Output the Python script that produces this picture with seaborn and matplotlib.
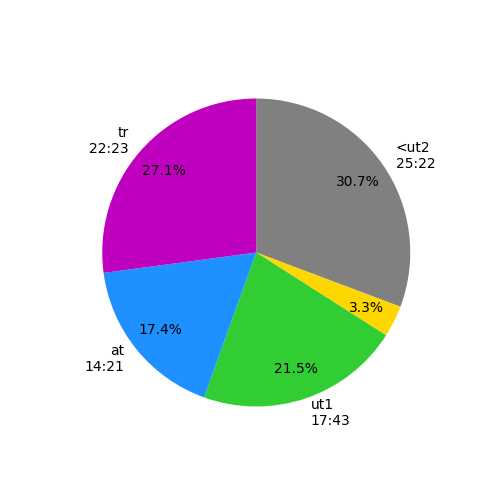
import matplotlib
matplotlib.use("Agg")
import matplotlib.pyplot as plt
import seaborn as sns

labels = ["<ut2\n25:22", "", "ut1\n17:43", "at\n14:21", "tr\n22:23"]
minutes = [25 + 22/60, 2.73, 17 + 43/60, 14 + 21/60, 22 + 23/60]
colors = ["gray", "gold", "limegreen", "dodgerblue", "m"]

sns.reset_defaults()
plt.rcParams['font.family'] = ['DejaVu Sans']
fig, ax = plt.subplots(figsize=(5, 5), dpi=100)
ax.pie(minutes, labels=labels, colors=colors, autopct="%1.1f%%",
       startangle=90, counterclock=False, pctdistance=0.8)
fig.savefig("out.png", dpi=100)
